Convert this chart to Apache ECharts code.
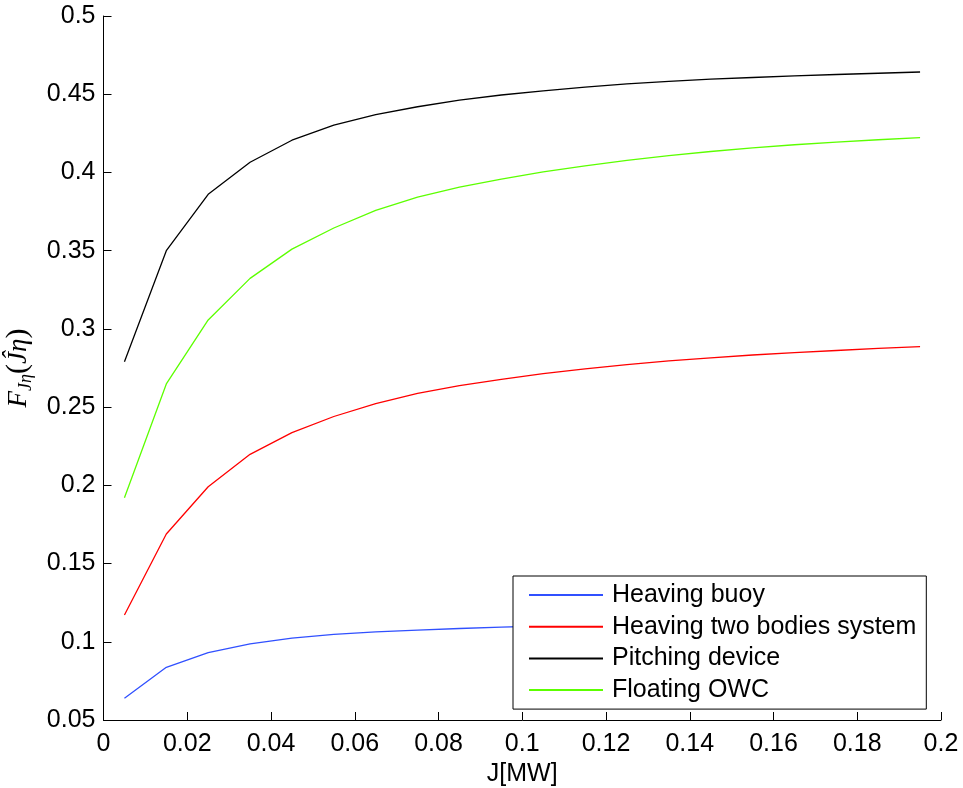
<!DOCTYPE html>
<html>
<head>
<meta charset="utf-8">
<script src="https://cdn.jsdelivr.net/npm/echarts@6/dist/echarts.min.js"></script>
<style>
html,body{margin:0;padding:0;background:#fff;}
#chart{width:963px;height:788px;}
</style>
</head>
<body>
<div id="chart"></div>
<script>
var xValues = [0.005, 0.015, 0.025, 0.035, 0.045, 0.055, 0.065, 0.075, 0.085, 0.095,
               0.105, 0.115, 0.125, 0.135, 0.145, 0.155, 0.165, 0.175, 0.185, 0.195];
var heavingBuoy = [0.0639, 0.0837, 0.0930, 0.0986, 0.1024, 0.1047, 0.1063, 0.1075, 0.1085, 0.1094,
                   0.1101, 0.1107, 0.1112, 0.1116, 0.1120, 0.1123, 0.1126, 0.1129, 0.1131, 0.1133];
var heavingTwoBodies = [0.1171, 0.1689, 0.1991, 0.2198, 0.2337, 0.2440, 0.2522, 0.2588, 0.2637, 0.2677,
                        0.2714, 0.2745, 0.2772, 0.2795, 0.2815, 0.2833, 0.2848, 0.2862, 0.2875, 0.2886];
var pitchingDevice = [0.2790, 0.3500, 0.3860, 0.4065, 0.4206, 0.4303, 0.4370, 0.4420, 0.4462, 0.4495,
                      0.4522, 0.4546, 0.4566, 0.4582, 0.4596, 0.4607, 0.4617, 0.4626, 0.4634, 0.4642];
var floatingOWC = [0.1920, 0.2648, 0.3057, 0.3323, 0.3510, 0.3645, 0.3758, 0.3842, 0.3906, 0.3957,
                   0.4003, 0.4042, 0.4077, 0.4107, 0.4134, 0.4157, 0.4177, 0.4194, 0.4209, 0.4222];
var seriesNames = ['Heaving buoy', 'Heaving two bodies system', 'Pitching device', 'Floating OWC'];
var seriesColors = ['#3050ff', '#ff0000', '#000000', '#5cff00'];
var seriesValues = [heavingBuoy, heavingTwoBodies, pitchingDevice, floatingOWC];

function pairs(ys) { return xValues.map(function (x, i) { return [x, ys[i]]; }); }
function fmt(v) { return String(+v.toFixed(3)); }

var FONT = 'Liberation Sans';
var chart = echarts.init(document.getElementById('chart'), null, {renderer: 'canvas'});
chart.setOption({
  animation: false,
  backgroundColor: '#ffffff',
  grid: {left: 103.5, right: 22, top: 16, bottom: 68, containLabel: false, outerBoundsMode: 'none'},
  xAxis: {
    type: 'value', min: 0, max: 0.2, interval: 0.02,
    name: 'J[MW]', nameLocation: 'middle', nameGap: 37,
    nameTextStyle: {fontFamily: FONT, fontSize: 25, color: '#000'},
    axisLine: {show: true, lineStyle: {color: '#000', width: 1}},
    axisTick: {show: true, inside: true, length: 8, lineStyle: {color: '#000'}},
    axisLabel: {fontFamily: FONT, fontSize: 25, color: '#000', margin: 12, formatter: fmt},
    splitLine: {show: false}
  },
  yAxis: {
    type: 'value', min: 0.05, max: 0.5, interval: 0.05,
    name: '{i|F}{s|Jη}{p|(}{i|Ĵη}{p|)}', nameLocation: 'middle', nameRotate: 90, nameGap: 68,
    nameTextStyle: {
      color: '#000',
      rich: {
        i: {fontFamily: 'Liberation Serif', fontStyle: 'italic', fontSize: 27, lineHeight: 34, color: '#000'},
        s: {fontFamily: 'Liberation Serif', fontStyle: 'italic', fontSize: 18, lineHeight: 34, verticalAlign: 'bottom', color: '#000'},
        p: {fontFamily: 'Liberation Serif', fontSize: 30, lineHeight: 34, color: '#000'}
      }
    },
    axisLine: {show: true, lineStyle: {color: '#000', width: 1}},
    axisTick: {show: true, inside: true, length: 8, lineStyle: {color: '#000'}},
    axisLabel: {fontFamily: FONT, fontSize: 25, color: '#000', margin: 8, formatter: fmt},
    splitLine: {show: false}
  },
  legend: {
    orient: 'vertical',
    left: 513, top: 576,
    padding: [5, 10, 5, 16],
    backgroundColor: '#ffffff',
    borderColor: '#000', borderWidth: 1,
    icon: 'rect', itemWidth: 74, itemHeight: 2, itemGap: 3.7,
    textStyle: {fontFamily: FONT, fontSize: 25, color: '#000', lineHeight: 28, padding: [0, 0, 0, 4]},
    data: seriesNames
  },
  series: seriesNames.map(function (n, k) {
    return {
      name: n, type: 'line', data: pairs(seriesValues[k]),
      symbol: 'none', color: seriesColors[k],
      lineStyle: {color: seriesColors[k], width: 1.3},
      itemStyle: {color: seriesColors[k]}
    };
  })
});
</script>
</body>
</html>
